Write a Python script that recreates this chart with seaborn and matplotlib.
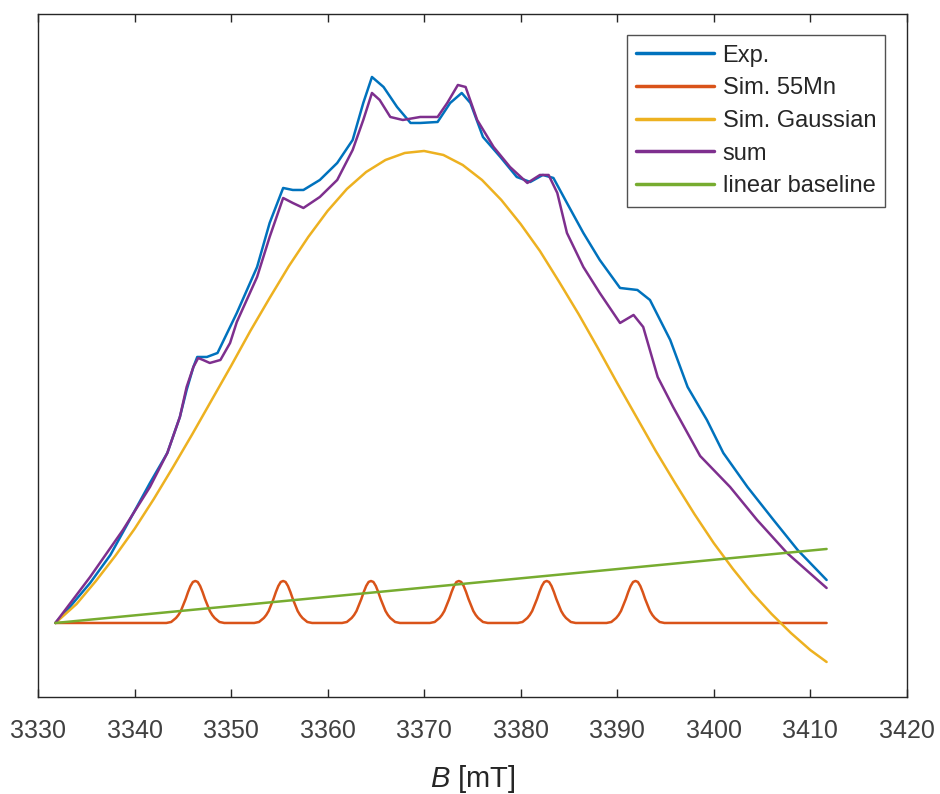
import matplotlib
matplotlib.use("Agg")
import matplotlib.pyplot as plt
import seaborn as sns

# ============================
# Dados (B em mT, intensidade em unidades arbitrárias)
# ============================
exp_x = [3331.8, 3333.3, 3335.4, 3337.5, 3339.5, 3341.6, 3343.4, 3344.7, 3345.4,
         3346.1, 3346.5, 3347.5, 3348.6, 3350.6, 3352.7, 3354.0, 3355.4, 3356.4,
         3357.5, 3359.2, 3361.0, 3362.6, 3363.7, 3364.6, 3365.8, 3367.2, 3368.6,
         3369.6, 3371.4, 3372.7, 3373.9, 3374.8, 3376.1, 3377.9, 3379.6, 3381.0,
         3382.3, 3383.4, 3384.8, 3386.5, 3388.2, 3390.3, 3392.1, 3393.4, 3395.5,
         3397.3, 3399.3, 3401.0, 3403.5, 3406.2, 3408.7, 3411.7]
exp_y = [0.74, 0.90, 1.14, 1.42, 1.77, 2.14, 2.44, 2.80, 3.07,
         3.30, 3.40, 3.40, 3.44, 3.84, 4.30, 4.74, 5.09, 5.07,
         5.07, 5.17, 5.34, 5.57, 5.94, 6.20, 6.10, 5.90, 5.74,
         5.74, 5.75, 5.94, 6.04, 5.94, 5.60, 5.40, 5.20, 5.15,
         5.22, 5.19, 4.94, 4.64, 4.37, 4.09, 4.07, 3.97, 3.57,
         3.10, 2.77, 2.44, 2.10, 1.77, 1.47, 1.17]

mn_x = [3331.8,
        3343.3, 3343.8, 3344.3, 3344.55, 3344.8, 3345.05, 3345.3, 3345.55, 3345.8, 3346.05, 3346.3,
        3346.55, 3346.8, 3347.05, 3347.3, 3347.55, 3347.8, 3348.05, 3348.3, 3348.8, 3349.3,
        3352.4, 3352.9, 3353.4, 3353.65, 3353.9, 3354.15, 3354.4, 3354.65, 3354.9, 3355.15, 3355.4,
        3355.65, 3355.9, 3356.15, 3356.4, 3356.65, 3356.9, 3357.15, 3357.4, 3357.9, 3358.4,
        3361.5, 3362.0, 3362.5, 3362.75, 3363.0, 3363.25, 3363.5, 3363.75, 3364.0, 3364.25, 3364.5,
        3364.75, 3365.0, 3365.25, 3365.5, 3365.75, 3366.0, 3366.25, 3366.5, 3367.0, 3367.5,
        3370.6, 3371.1, 3371.6, 3371.85, 3372.1, 3372.35, 3372.6, 3372.85, 3373.1, 3373.35, 3373.6,
        3373.85, 3374.1, 3374.35, 3374.6, 3374.85, 3375.1, 3375.35, 3375.6, 3376.1, 3376.6,
        3379.7, 3380.2, 3380.7, 3380.95, 3381.2, 3381.45, 3381.7, 3381.95, 3382.2, 3382.45, 3382.7,
        3382.95, 3383.2, 3383.45, 3383.7, 3383.95, 3384.2, 3384.45, 3384.7, 3385.2, 3385.7,
        3388.9, 3389.4, 3389.9, 3390.15, 3390.4, 3390.65, 3390.9, 3391.15, 3391.4, 3391.65, 3391.9,
        3392.15, 3392.4, 3392.65, 3392.9, 3393.15, 3393.4, 3393.65, 3393.9, 3394.4, 3394.9,
        3411.7]
mn_y = [0.74,
        0.74, 0.75, 0.79, 0.82, 0.86, 0.92, 0.98, 1.05, 1.11, 1.15, 1.16,
        1.15, 1.11, 1.05, 0.98, 0.92, 0.86, 0.82, 0.79, 0.75, 0.74,
        0.74, 0.75, 0.79, 0.82, 0.86, 0.92, 0.98, 1.05, 1.11, 1.15, 1.16,
        1.15, 1.11, 1.05, 0.98, 0.92, 0.86, 0.82, 0.79, 0.75, 0.74,
        0.74, 0.75, 0.79, 0.82, 0.86, 0.92, 0.98, 1.05, 1.11, 1.15, 1.16,
        1.15, 1.11, 1.05, 0.98, 0.92, 0.86, 0.82, 0.79, 0.75, 0.74,
        0.74, 0.75, 0.79, 0.82, 0.86, 0.92, 0.98, 1.05, 1.11, 1.15, 1.16,
        1.15, 1.11, 1.05, 0.98, 0.92, 0.86, 0.82, 0.79, 0.75, 0.74,
        0.74, 0.75, 0.79, 0.82, 0.86, 0.92, 0.98, 1.05, 1.11, 1.15, 1.16,
        1.15, 1.11, 1.05, 0.98, 0.92, 0.86, 0.82, 0.79, 0.75, 0.74,
        0.74, 0.75, 0.79, 0.82, 0.86, 0.92, 0.98, 1.05, 1.11, 1.15, 1.16,
        1.15, 1.11, 1.05, 0.98, 0.92, 0.86, 0.82, 0.79, 0.75, 0.74,
        0.74]

gauss_x = [3331.8, 3334, 3336, 3338, 3340, 3342, 3344, 3346, 3348, 3350, 3352, 3354,
           3356, 3358, 3360, 3362, 3364, 3366, 3368, 3370, 3372, 3374, 3376, 3378,
           3380, 3382, 3384, 3386, 3388, 3390, 3392, 3394, 3396, 3398, 3400, 3402,
           3404, 3406, 3408, 3410, 3411.7]
gauss_y = [0.74, 0.93, 1.16, 1.41, 1.68, 1.98, 2.30, 2.63, 2.97, 3.31, 3.66, 3.99,
           4.31, 4.60, 4.86, 5.08, 5.25, 5.37, 5.44, 5.46, 5.42, 5.32, 5.17, 4.97,
           4.73, 4.46, 4.15, 3.83, 3.49, 3.14, 2.80, 2.46, 2.14, 1.83, 1.54, 1.28,
           1.04, 0.83, 0.64, 0.47, 0.35]

sum_x = [3331.8, 3335.4, 3338.8, 3341.6, 3343.4, 3344.7, 3345.4, 3346.1, 3346.6,
         3347.1, 3347.8, 3348.9, 3349.9, 3350.6, 3352.7, 3354.0, 3355.4, 3356.4,
         3357.5, 3359.2, 3361.0, 3362.6, 3363.7, 3364.6, 3365.4, 3366.5, 3367.8,
         3369.6, 3371.4, 3372.4, 3373.5, 3374.3, 3375.5, 3377.2, 3378.9, 3380.7,
         3382.0, 3382.9, 3383.8, 3384.8, 3386.5, 3388.2, 3390.3, 3391.7, 3392.7,
         3394.2, 3395.8, 3398.6, 3401.7, 3404.5, 3407.6, 3411.7]
sum_y = [0.74, 1.20, 1.67, 2.10, 2.44, 2.80, 3.10, 3.30, 3.39,
         3.37, 3.34, 3.37, 3.54, 3.75, 4.20, 4.60, 4.99, 4.94,
         4.89, 5.00, 5.17, 5.47, 5.77, 6.04, 5.97, 5.80, 5.77,
         5.80, 5.80, 5.94, 6.12, 6.10, 5.77, 5.50, 5.30, 5.14,
         5.22, 5.22, 5.04, 4.64, 4.30, 4.04, 3.74, 3.82, 3.70,
         3.20, 2.90, 2.41, 2.10, 1.77, 1.44, 1.09]

base_x = [3331.8, 3411.7]
base_y = [0.74, 1.48]

# ============================
# Estilo
# ============================
sns.set_theme(style="white")
plt.rcParams["font.family"] = ["Liberation Sans", "DejaVu Sans"]
plt.rcParams["mathtext.fontset"] = "custom"
plt.rcParams["mathtext.rm"] = "Liberation Sans"
plt.rcParams["mathtext.it"] = "Liberation Sans:italic"

fig = plt.figure(figsize=(9.4, 7.94), dpi=100)
ax = fig.add_axes([0.0404, 0.1222, 0.9242, 0.8602])

lw = 1.8
sns.lineplot(x=exp_x, y=exp_y, color="#0072BD", lw=lw, label="Exp.", ax=ax)
sns.lineplot(x=mn_x, y=mn_y, color="#D95319", lw=lw, label="Sim. 55Mn", ax=ax)
sns.lineplot(x=gauss_x, y=gauss_y, color="#EDB120", lw=lw, label="Sim. Gaussian", ax=ax)
sns.lineplot(x=sum_x, y=sum_y, color="#7E2F8E", lw=lw, label="sum", ax=ax)
sns.lineplot(x=base_x, y=base_y, color="#77AC30", lw=lw, label="linear baseline", ax=ax)

ax.set_xlim(3330, 3420)
ax.set_ylim(0, 6.83)
ax.set_xticks(range(3330, 3421, 10))
ax.set_yticks([])

for s in ax.spines.values():
    s.set_visible(True)
    s.set_color("#262626")
    s.set_linewidth(1.0)

ax.tick_params(axis="x", direction="in", top=True, bottom=True, length=6,
               width=1.0, color="#262626", labelsize=18, labelcolor="#404040", pad=16)

ax.set_xlabel(r"$\it{B}$ [mT]", fontsize=21, color="#262626", labelpad=14)
ax.set_ylabel("")

leg = ax.legend(loc="upper right", fontsize=17, frameon=True, fancybox=False,
                edgecolor="#262626", handlelength=3.3, handletextpad=0.35,
                labelspacing=0.45, borderaxespad=0.9, borderpad=0.4)
leg.get_frame().set_linewidth(1.0)
for h in leg.get_lines():
    h.set_linewidth(2.5)

fig.savefig("out.png", dpi=100, facecolor="white")
